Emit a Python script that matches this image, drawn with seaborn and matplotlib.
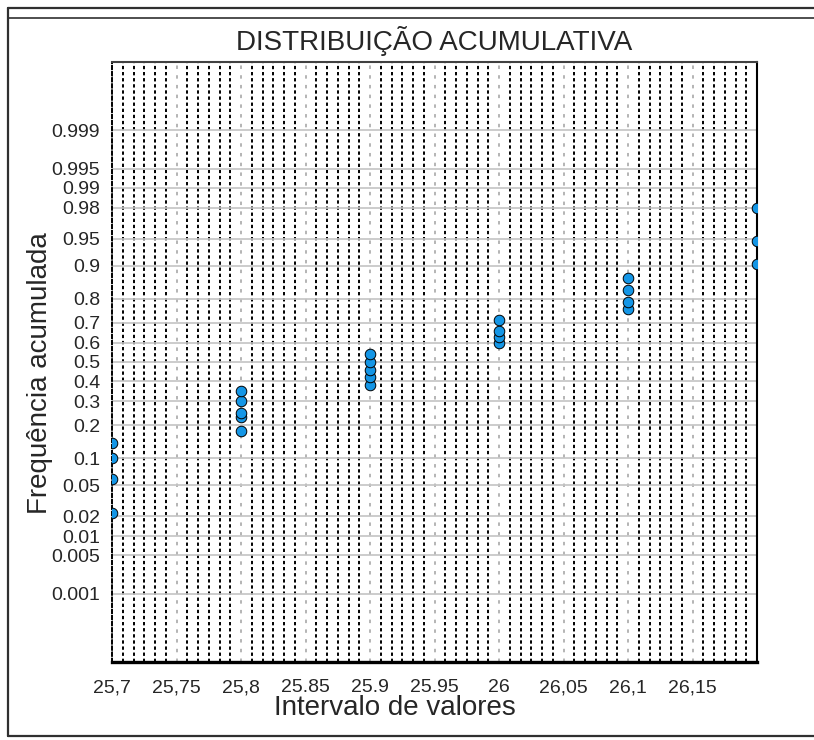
import numpy as np
import pandas as pd
import seaborn as sns
import matplotlib
matplotlib.use("Agg")
import matplotlib.pyplot as plt
from matplotlib.ticker import AutoMinorLocator, NullLocator
from matplotlib.lines import Line2D
from statistics import NormalDist

# values (probability plot)
x_vals = [25.7, 25.7, 25.7, 25.7,
          25.8, 25.8, 25.8, 25.8, 25.8,
          25.9, 25.9, 25.9, 25.9, 25.9,
          26.0, 26.0, 26.0, 26.0,
          26.1, 26.1, 26.1, 26.1,
          26.2, 26.2, 26.2]
freq_vals = [0.022, 0.06, 0.10, 0.14,
             0.18, 0.23, 0.25, 0.30, 0.35,
             0.38, 0.42, 0.46, 0.50, 0.54,
             0.60, 0.63, 0.66, 0.71,
             0.76, 0.79, 0.83, 0.87,
             0.905, 0.946, 0.98]

x_ticks = [25.7, 25.75, 25.8, 25.85, 25.9, 25.95, 26.0, 26.05, 26.1, 26.15]
x_labels = ["25,7", "25,75", "25,8", "25.85", "25.9", "25.95", "26", "26,05", "26,1", "26,15"]
y_ticks = [0.001, 0.005, 0.01, 0.02, 0.05, 0.1, 0.2, 0.3, 0.4, 0.5,
           0.6, 0.7, 0.8, 0.9, 0.95, 0.98, 0.99, 0.995, 0.999]
y_labels = [str(v) for v in y_ticks]

df = pd.DataFrame({"valor": x_vals, "freq": freq_vals})

sns.set_style("white")
plt.rcParams["font.family"] = ["Liberation Sans", "DejaVu Sans"]
plt.rcParams["lines.scale_dashes"] = False

nd = NormalDist()
_ppf = np.vectorize(lambda p: nd.inv_cdf(min(max(p, 1e-12), 1 - 1e-12)), otypes=[float])
_cdf = np.vectorize(nd.cdf, otypes=[float])


def probit(p):
    return _ppf(np.asarray(p, dtype=float))


def inv_probit(z):
    return _cdf(np.asarray(z, dtype=float))


fig = plt.figure(figsize=(8.14, 7.40), dpi=100)
ax = fig.add_axes([112 / 814, 1 - 662 / 740, (757 - 112) / 814, 600 / 740])

sns.scatterplot(data=df, x="valor", y="freq", ax=ax, s=58, color="#1496e6",
                edgecolor="black", linewidth=0.7, zorder=5, legend=False)

ax.set_yscale("function", functions=(probit, inv_probit))
ax.set_ylim(nd.cdf(-4.0), nd.cdf(4.0))
ax.set_xlim(25.7, 26.2)

ax.set_yticks(y_ticks, y_labels)
ax.set_xticks(x_ticks, x_labels)
ax.xaxis.set_minor_locator(AutoMinorLocator(6))
ax.yaxis.set_minor_locator(NullLocator())

ax.grid(which="major", axis="y", color="#c4c4c4", linestyle="-", linewidth=1.2, zorder=0)
ax.grid(which="minor", axis="x", color="black", linestyle=(0, (2.4, 2.0)), linewidth=1.4)
ax.grid(which="major", axis="x", color="#a0a0a0", linestyle=(0, (2.5, 4.5)), linewidth=1.1)
ax.set_axisbelow(True)

ax.tick_params(axis="y", length=0, pad=8.5, labelsize=14)
ax.tick_params(axis="x", which="major", length=6, width=1, color="#909090",
               pad=6.5, labelsize=14)
ax.tick_params(axis="x", which="minor", length=2, width=1, color="black")

ax.spines["bottom"].set_linewidth(2.4)
ax.spines["bottom"].set_color("black")
ax.spines["top"].set_linewidth(1.5)
ax.spines["top"].set_color("#404040")
ax.spines["right"].set_linewidth(1.5)
ax.spines["right"].set_color("black")
ax.spines["left"].set_linewidth(1.4)
ax.spines["left"].set_color("black")
ax.spines["left"].set_linestyle((0, (2.4, 2.0)))

ax.set_title("DISTRIBUIÇÃO ACUMULATIVA", fontsize=20, pad=8.6)
ax.set_xlabel("Intervalo de valores", fontsize=20)
ax.set_ylabel("Frequência acumulada", fontsize=20)
ax.xaxis.set_label_coords(0.439, -0.055)
ax.yaxis.set_label_coords(-0.091, 0.482)

# outer frame of the picture
fw, fh = 814, 740
frame = dict(color="#303030", transform=fig.transFigure)
fig.add_artist(Line2D([8 / fw, 1], [1 - 8 / fh, 1 - 8 / fh], linewidth=1.6, **frame))
fig.add_artist(Line2D([8 / fw, 1], [1 - 18 / fh, 1 - 18 / fh], linewidth=1.2, **frame))
fig.add_artist(Line2D([8 / fw, 8 / fw], [1 - 8 / fh, 1 - 736 / fh], linewidth=1.6, **frame))
fig.add_artist(Line2D([8 / fw, 1], [1 - 736 / fh, 1 - 736 / fh], linewidth=1.6, **frame))

fig.savefig("out.png", dpi=100)
